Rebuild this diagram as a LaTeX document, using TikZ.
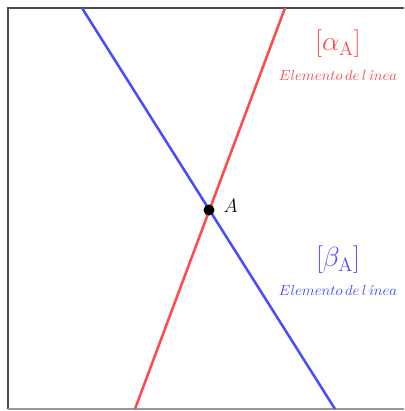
\documentclass[tikz,border=0pt]{standalone}
\usepackage{amsmath,amssymb}
\usepackage{tikz}
\usetikzlibrary{positioning}
\definecolor{lred}{RGB}{255,75,75}
\definecolor{lblue}{RGB}{75,75,255}
\tikzset{
	frameline/.style={line width=1.4pt, black!70},
	elemline/.style={line width=1.9pt},
	elemlabel/.style={font=\fontsize{19.5}{22}\selectfont},
	elemtext/.style={font=\fontsize{10.8}{13}\selectfont}
}
\begin{document}
\begin{tikzpicture}[x=0.75pt,y=-0.75pt]
		
		\useasboundingbox (0,0) rectangle (404,411);
		
		\draw[frameline] (404,8) -- (8,8) -- (8,409);
		\draw[line width=1pt, black!40] (8,409) -- (404,409);
		
		\coordinate (bt) at (82,8);
		\coordinate (bb) at (335,409);
		\coordinate (rt) at (285,8);
		\coordinate (rb) at (135,409);
		
		\draw[elemline, lblue] (bt) -- (bb);
		\draw[elemline, lred] (rb) -- (rt);
		
		\node[circle, fill=black, inner sep=0pt, minimum size=8.3pt] (A) at (209,210) {};
		\node[right=3pt of A, yshift=3pt, font=\fontsize{13.5}{16}\selectfont] (Alab) {$A$};
		
		\node[elemlabel, text=lred] (alpha) at (338,44) {$[\alpha_{\mathrm{A}}]$};
		\node[elemtext, text=lred] (alphatxt) at (338,75) {$Elemento\,de\,l\,\acute{\imath}nea$};
		
		\node[elemlabel, text=lblue] (beta) at (338,260) {$[\beta_{\mathrm{A}}]$};
		\node[elemtext, text=lblue] (betatxt) at (338,290) {$Elemento\,de\,l\,\acute{\imath}nea$};
		
	\end{tikzpicture}
\end{document}
